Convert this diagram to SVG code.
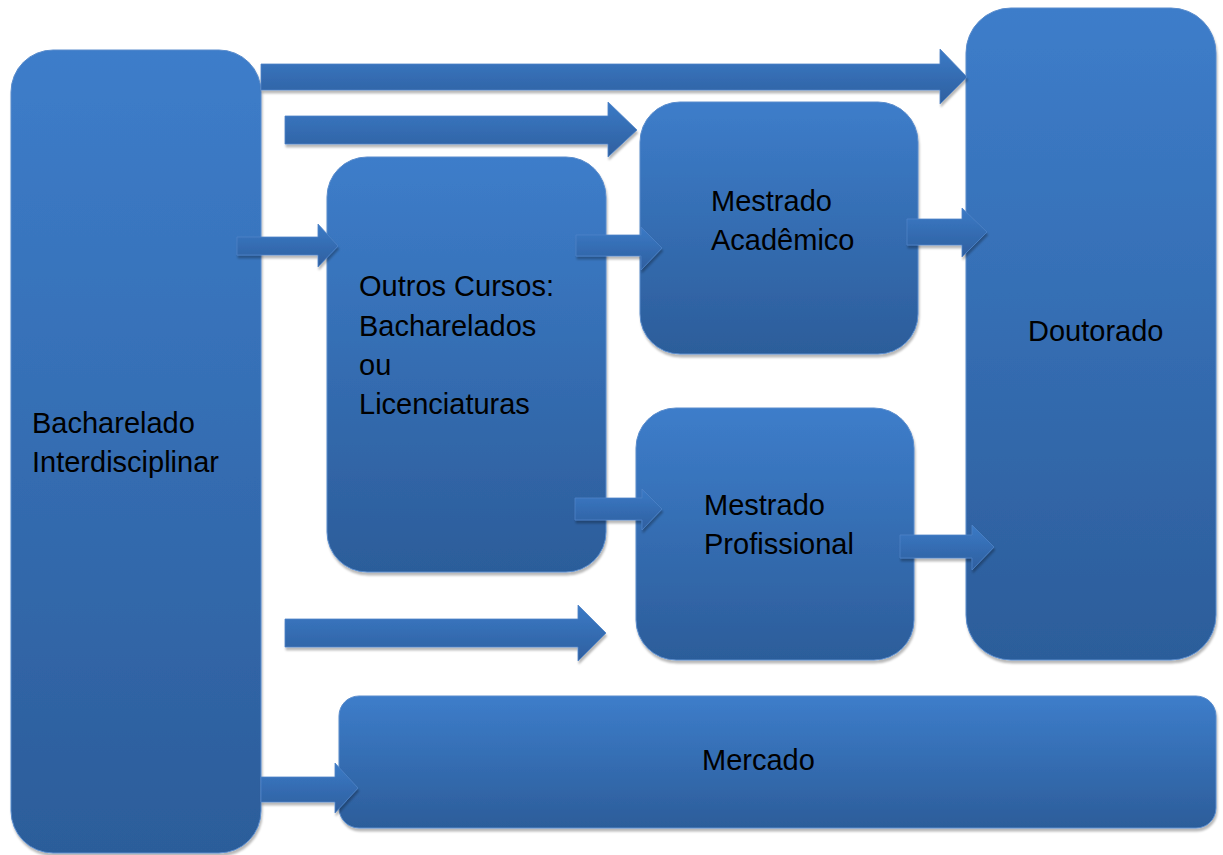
<svg xmlns="http://www.w3.org/2000/svg" width="1223" height="855" viewBox="0 0 1223 855">
<defs>
<linearGradient id="gBox" x1="0" y1="0" x2="0" y2="1">
<stop offset="0" stop-color="#3d7dca"/>
<stop offset="1" stop-color="#2c5d9a"/>
</linearGradient>
<linearGradient id="gArr" x1="0" y1="0" x2="0" y2="1">
<stop offset="0" stop-color="#3b7ac6"/>
<stop offset="1" stop-color="#2e5f9f"/>
</linearGradient>
<filter id="sh" x="-5%" y="-5%" width="110%" height="115%">
<feDropShadow dx="1" dy="3" stdDeviation="1.2" flood-color="#000" flood-opacity="0.28"/>
</filter>
</defs>
<style>
.box{fill:url(#gBox);stroke:#5a8ccc;stroke-width:1;filter:url(#sh)}
.arr{fill:url(#gArr);stroke:#4f84c8;stroke-width:0.8;filter:url(#sh)}
.t{font-family:"Liberation Sans",Arial,sans-serif;font-size:29px;fill:#000}
</style>
<rect width="1223" height="855" fill="#fff"/>

<g id="bacharelado">
<rect class="box" x="11" y="50" width="250" height="803" rx="42"/>
<text class="t" x="32" y="433">Bacharelado</text>
<text class="t" x="32" y="472">Interdisciplinar</text>
</g>
<g id="doutorado">
<rect class="box" x="966" y="8" width="250" height="652" rx="45"/>
<text class="t" x="1028" y="341">Doutorado</text>
</g>
<g id="mestrado-academico">
<rect class="box" x="640" y="102" width="278" height="252" rx="40"/>
<text class="t" x="711" y="211">Mestrado</text>
<text class="t" x="711" y="250">Acadêmico</text>
</g>
<g id="outros-cursos">
<rect class="box" x="327" y="157" width="279" height="415" rx="40"/>
<text class="t" x="359" y="296">Outros Cursos:</text>
<text class="t" x="359" y="336">Bacharelados</text>
<text class="t" x="359" y="375">ou</text>
<text class="t" x="359" y="414">Licenciaturas</text>
</g>
<g id="mestrado-profissional">
<rect class="box" x="636" y="408" width="278" height="252" rx="40"/>
<text class="t" x="704" y="515">Mestrado</text>
<text class="t" x="704" y="554">Profissional</text>
</g>
<g id="mercado">
<rect class="box" x="339" y="696" width="877" height="132" rx="20"/>
<text class="t" x="702" y="770">Mercado</text>
</g>

<g id="connectors">
<path class="arr" d="M261,64 H940 V49 L967,77 L940,104 V90 H261 Z"/>
<path class="arr" d="M285,116 H608 V102 L637,130 L608,157 V144 H285 Z"/>
<path class="arr" d="M237,237 H318 V224 L338,246 L318,267 V255 H237 Z"/>
<path class="arr" d="M576,235 H641 V227 L662,248 L641,270 V256 H576 Z"/>
<path class="arr" d="M907,219 H962 V208 L987,232 L962,257 V245 H907 Z"/>
<path class="arr" d="M575,498 H642 V489 L662,509 L642,530 V520 H575 Z"/>
<path class="arr" d="M900,535 H972 V525 L994,547 L972,570 V558 H900 Z"/>
<path class="arr" d="M285,619 H578 V605 L606,633 L578,661 V647 H285 Z"/>
<path class="arr" d="M261,777 H335 V763 L358,788 L335,813 V802 H261 Z"/>
</g>
</svg>
